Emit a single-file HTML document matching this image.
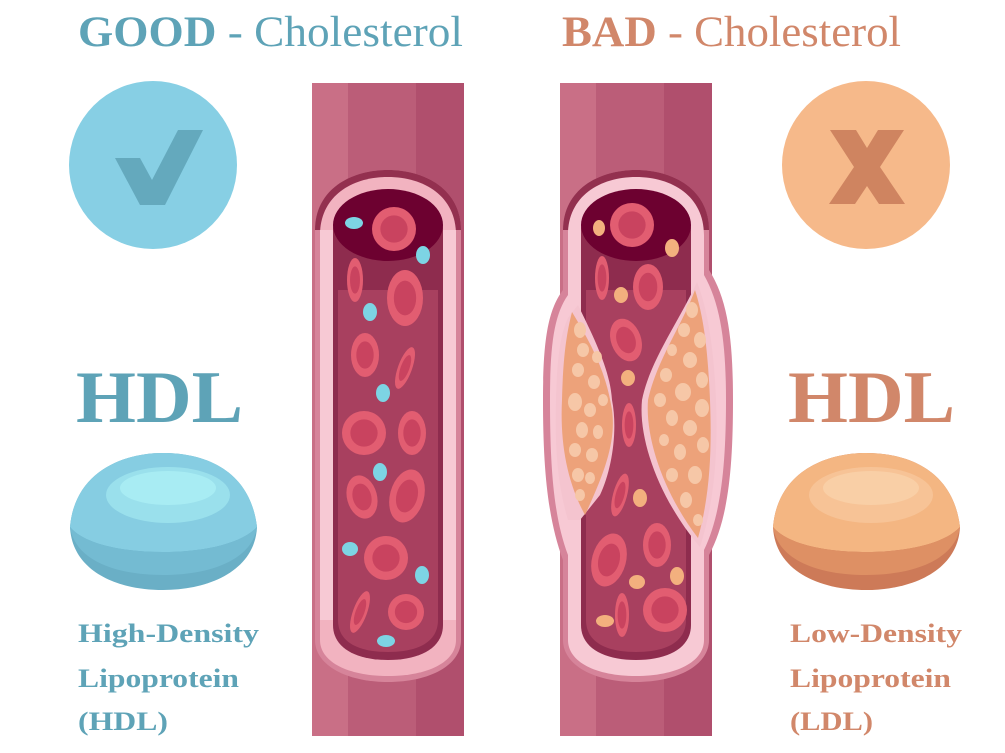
<!DOCTYPE html>
<html><head><meta charset="utf-8"><style>
html,body{margin:0;padding:0;background:#fff;}
svg{display:block;}
text{font-family:"Liberation Serif",serif;}
</style></head><body>
<svg width="1005" height="753" viewBox="0 0 1005 753" xmlns="http://www.w3.org/2000/svg">
<defs>
<g id="rbc"><ellipse rx="1" ry="1" fill="#e25d71"/><ellipse rx="0.62" ry="0.62" fill="#c9435f"/></g>
</defs>
<!-- Titles -->
<text x="78" y="46" font-size="43" fill="#5ea3b7" textLength="385" lengthAdjust="spacingAndGlyphs"><tspan font-weight="bold">GOOD</tspan> - Cholesterol</text>
<text x="562" y="46" font-size="43" fill="#d1876a" textLength="339" lengthAdjust="spacingAndGlyphs"><tspan font-weight="bold">BAD</tspan> - Cholesterol</text>

<!-- circles -->
<circle cx="153" cy="165" r="84" fill="#87cfe4"/>
<path d="M115 158 L140 158 L152 180 L178 130 L203 130 L165 205 L140 205 Z" fill="#64a9bd"/>
<circle cx="866" cy="165" r="84" fill="#f6b98a"/>
<path d="M830 130 L856 130 L867 148 L878 130 L904 130 L880 167 L905 204 L879 204 L867 186 L855 204 L829 204 L854 167 Z" fill="#cf8460"/>

<!-- HDL labels -->
<text x="76" y="422" font-size="74" font-weight="bold" fill="#5ea3b7" textLength="167" lengthAdjust="spacingAndGlyphs">HDL</text>
<text x="788" y="422" font-size="74" font-weight="bold" fill="#d1876a" textLength="167" lengthAdjust="spacingAndGlyphs">HDL</text>

<!-- blobs -->
<g>
<path d="M70 527 C75 470 125 453 163 453 C205 453 250 470 257 527 C255 570 210 590 163 590 C115 590 72 570 70 527 Z" fill="#6aafc6"/>
<path d="M70 527 C75 470 125 453 163 453 C205 453 250 470 257 527 C240 545 200 552 163 552 C125 552 85 545 70 527 Z" fill="#86cde2"/>
<path d="M70 527 C85 545 125 552 163 552 C200 552 240 545 257 527 C252 560 210 575 163 575 C115 575 75 560 70 527 Z" fill="#74bbd2"/>
<ellipse cx="168" cy="495" rx="62" ry="28" fill="#9ae0ec"/>
<ellipse cx="168" cy="488" rx="48" ry="17" fill="#a8ecf3"/>
</g>
<g>
<path d="M773 527 C778 470 828 453 866 453 C908 453 953 470 960 527 C958 570 913 590 866 590 C818 590 775 570 773 527 Z" fill="#cd7a58"/>
<path d="M773 527 C778 470 828 453 866 453 C908 453 953 470 960 527 C943 545 903 552 866 552 C828 552 788 545 773 527 Z" fill="#f4b682"/>
<path d="M773 527 C788 545 828 552 866 552 C903 552 943 545 960 527 C955 560 913 575 866 575 C818 575 778 560 773 527 Z" fill="#de9064"/>
<ellipse cx="871" cy="495" rx="62" ry="28" fill="#f7c396"/>
<ellipse cx="871" cy="488" rx="48" ry="17" fill="#f9cfa6"/>
</g>

<!-- bottom text -->
<g font-size="26" font-weight="bold" fill="#5ea3b7">
<text x="78" y="642" textLength="181" lengthAdjust="spacingAndGlyphs">High-Density</text>
<text x="78" y="687" textLength="161" lengthAdjust="spacingAndGlyphs">Lipoprotein</text>
<text x="78" y="730" textLength="90" lengthAdjust="spacingAndGlyphs">(HDL)</text>
</g>
<g font-size="26" font-weight="bold" fill="#d1876a">
<text x="790" y="642" textLength="172" lengthAdjust="spacingAndGlyphs">Low-Density</text>
<text x="790" y="687" textLength="161" lengthAdjust="spacingAndGlyphs">Lipoprotein</text>
<text x="790" y="730" textLength="83" lengthAdjust="spacingAndGlyphs">(LDL)</text>
</g>

<!-- LEFT VESSEL -->
<g>
<rect x="312" y="83" width="36" height="653" fill="#c96f86"/>
<rect x="348" y="83" width="68" height="653" fill="#bb5d78"/>
<rect x="416" y="83" width="48" height="653" fill="#b04f6d"/>
<path d="M315 230 C315 190 350 170 388 170 C426 170 461 190 461 230 L461 640 C461 665 430 682 388 682 C346 682 315 665 315 640 Z" fill="#d6849a"/>
<path d="M315 230 C315 190 350 170 388 170 C426 170 461 190 461 230 Z" fill="#93304f"/>
<path d="M320 235 C320 196 352 177 388 177 C424 177 456 196 456 235 L456 640 C456 662 428 676 388 676 C348 676 320 662 320 640 Z" fill="#f2b3c0"/>
<rect x="320" y="230" width="136" height="390" fill="#f7c9d4"/>
<path d="M333 230 C333 205 358 190 388 190 C418 190 443 205 443 230 L443 625 C443 648 420 660 388 660 C356 660 333 648 333 625 Z" fill="#8e2c4e"/>
<path d="M338 290 L438 290 L438 620 C438 642 418 652 388 652 C358 652 338 642 338 620 Z" fill="#a8405f"/>
<ellipse cx="388" cy="225" rx="55" ry="36" fill="#6d0130"/>
<use href="#rbc" transform="translate(394,229) scale(22)"/>
<use href="#rbc" transform="translate(355,280) scale(8,22)"/>
<use href="#rbc" transform="translate(405,298) scale(18,28)"/>
<use href="#rbc" transform="translate(365,355) scale(14,22)"/>
<use href="#rbc" transform="translate(405,368) rotate(20) scale(7,22)"/>
<use href="#rbc" transform="translate(364,433) scale(22)"/>
<use href="#rbc" transform="translate(412,433) scale(14,22)"/>
<use href="#rbc" transform="translate(362,497) rotate(-15) scale(15,22)"/>
<use href="#rbc" transform="translate(407,496) rotate(15) scale(17,27)"/>
<use href="#rbc" transform="translate(386,558) scale(22)"/>
<use href="#rbc" transform="translate(360,612) rotate(20) scale(7,22)"/>
<use href="#rbc" transform="translate(406,612) scale(18)"/>
<g fill="#7dd4e4">
<ellipse cx="354" cy="223" rx="9" ry="6"/>
<ellipse cx="423" cy="255" rx="7" ry="9"/>
<ellipse cx="370" cy="312" rx="7" ry="9"/>
<ellipse cx="383" cy="393" rx="7" ry="9"/>
<ellipse cx="380" cy="472" rx="7" ry="9"/>
<ellipse cx="350" cy="549" rx="8" ry="7"/>
<ellipse cx="422" cy="575" rx="7" ry="9"/>
<ellipse cx="386" cy="641" rx="9" ry="6"/>
</g>
</g>

<!-- RIGHT VESSEL -->
<g>
<rect x="560" y="83" width="36" height="653" fill="#c96f86"/>
<rect x="596" y="83" width="68" height="653" fill="#bb5d78"/>
<rect x="664" y="83" width="48" height="653" fill="#b04f6d"/>
<path d="M563 230 C563 190 598 170 636 170 C674 170 709 190 709 230 L709 270 C728 300 733 340 733 400 C733 470 728 520 709 555 L709 640 C709 665 678 682 636 682 C594 682 563 665 563 640 L563 560 C548 520 543 470 543 400 C543 340 548 310 563 290 Z" fill="#d6849a"/>
<path d="M563 230 C563 190 598 170 636 170 C674 170 709 190 709 230 Z" fill="#93304f"/>
<path d="M568 235 C568 196 600 177 636 177 C672 177 704 196 704 235 L704 275 C721 305 726 345 726 400 C726 465 721 515 704 550 L704 640 C704 662 676 676 636 676 C596 676 568 662 568 640 L568 555 C554 518 550 470 550 400 C550 345 554 315 568 295 Z" fill="#f7c9d4"/>
<path d="M581 230 C581 205 606 190 636 190 C666 190 691 205 691 230 L691 625 C691 648 668 660 636 660 C604 660 581 648 581 625 Z" fill="#8e2c4e"/>
<path d="M586 290 L686 290 L686 620 C686 642 666 652 636 652 C606 652 586 642 586 620 Z" fill="#a8405f"/>
<ellipse cx="636" cy="225" rx="55" ry="36" fill="#6d0130"/>
<!-- plaques -->
<path d="M568 318 L578 305 C595 340 610 370 612 400 C618 430 612 470 600 495 L580 520 L568 520 C556 480 555 440 556 400 C557 360 560 335 568 318 Z" fill="#f4c4cf"/>
<path d="M572 312 C592 345 606 372 612 410 C616 440 606 470 585 515 C566 480 560 440 562 400 C563 360 566 335 572 312 Z" fill="#eda27a"/>
<path d="M697 282 C680 320 650 360 642 400 C638 440 660 500 700 547 C715 500 718 450 716 400 C714 350 708 310 697 282 Z" fill="#f4c4cf"/>
<path d="M695 290 C682 325 656 362 648 400 C645 440 665 495 698 538 C710 495 712 450 710 400 C708 352 704 318 695 290 Z" fill="#eda27a"/>
<g fill="#f6c7a7">
<ellipse cx="580" cy="330" rx="6" ry="8"/><ellipse cx="583" cy="350" rx="6" ry="7"/><ellipse cx="597" cy="357" rx="5" ry="6"/>
<ellipse cx="578" cy="370" rx="6" ry="7"/><ellipse cx="594" cy="382" rx="6" ry="7"/><ellipse cx="603" cy="400" rx="5" ry="6"/>
<ellipse cx="575" cy="402" rx="7" ry="9"/><ellipse cx="590" cy="410" rx="6" ry="7"/><ellipse cx="582" cy="430" rx="6" ry="8"/>
<ellipse cx="598" cy="432" rx="5" ry="7"/><ellipse cx="575" cy="450" rx="6" ry="7"/><ellipse cx="592" cy="455" rx="6" ry="7"/>
<ellipse cx="578" cy="475" rx="6" ry="7"/><ellipse cx="590" cy="478" rx="5" ry="6"/><ellipse cx="580" cy="495" rx="5" ry="6"/>
<ellipse cx="692" cy="310" rx="6" ry="8"/><ellipse cx="684" cy="330" rx="6" ry="7"/><ellipse cx="700" cy="340" rx="6" ry="8"/>
<ellipse cx="672" cy="350" rx="5" ry="6"/><ellipse cx="690" cy="360" rx="7" ry="8"/><ellipse cx="666" cy="375" rx="6" ry="7"/>
<ellipse cx="702" cy="380" rx="6" ry="8"/><ellipse cx="683" cy="392" rx="8" ry="9"/><ellipse cx="660" cy="400" rx="6" ry="7"/>
<ellipse cx="702" cy="408" rx="7" ry="9"/><ellipse cx="672" cy="418" rx="6" ry="8"/><ellipse cx="690" cy="428" rx="7" ry="8"/>
<ellipse cx="664" cy="440" rx="5" ry="6"/><ellipse cx="703" cy="445" rx="6" ry="8"/><ellipse cx="680" cy="452" rx="6" ry="8"/>
<ellipse cx="672" cy="475" rx="6" ry="7"/><ellipse cx="695" cy="475" rx="7" ry="9"/><ellipse cx="686" cy="500" rx="6" ry="8"/>
<ellipse cx="698" cy="520" rx="5" ry="6"/>
</g>
<use href="#rbc" transform="translate(632,225) scale(22)"/>
<use href="#rbc" transform="translate(602,278) scale(7,22)"/>
<use href="#rbc" transform="translate(648,287) scale(15,23)"/>
<use href="#rbc" transform="translate(626,340) rotate(-20) scale(15,22)"/>
<use href="#rbc" transform="translate(629,425) scale(7,22)"/>
<use href="#rbc" transform="translate(620,495) rotate(15) scale(7,22)"/>
<use href="#rbc" transform="translate(609,560) rotate(15) scale(17,27)"/>
<use href="#rbc" transform="translate(657,545) scale(14,22)"/>
<use href="#rbc" transform="translate(622,615) scale(7,22)"/>
<use href="#rbc" transform="translate(665,610) scale(22)"/>
<g fill="#f3b07e">
<ellipse cx="599" cy="228" rx="6" ry="8"/>
<ellipse cx="672" cy="248" rx="7" ry="9"/>
<ellipse cx="621" cy="295" rx="7" ry="8"/>
<ellipse cx="628" cy="378" rx="7" ry="8"/>
<ellipse cx="640" cy="498" rx="7" ry="9"/>
<ellipse cx="637" cy="582" rx="8" ry="7"/>
<ellipse cx="677" cy="576" rx="7" ry="9"/>
<ellipse cx="605" cy="621" rx="9" ry="6"/>
</g>
</g>
</svg>
</body></html>
